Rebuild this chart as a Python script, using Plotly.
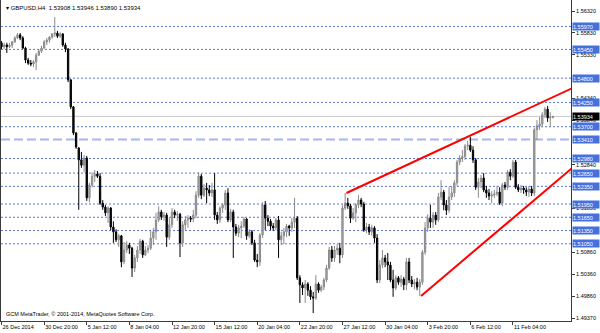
import plotly.graph_objects as go

# ---------------- data (GBPUSD, H4) ----------------
opens = [
    1.5560, 1.5551, 1.5555, 1.5551, 1.5555, 1.5562, 1.5571, 1.5578, 1.5571, 1.5548,
    1.5521, 1.5514, 1.5512, 1.5517, 1.5532, 1.5541, 1.5548, 1.5562, 1.5566, 1.5573,
    1.5580, 1.5582, 1.5575, 1.5580, 1.5555, 1.5546, 1.5476, 1.5415, 1.5356, 1.5322,
    1.5295, 1.5283, 1.5299, 1.5209, 1.5238, 1.5258, 1.5263, 1.5258, 1.5197, 1.5188,
    1.5175, 1.5186, 1.5143, 1.5132, 1.5114, 1.5123, 1.5064, 1.5091, 1.5102, 1.5095,
    1.5050, 1.5073, 1.5091, 1.5111, 1.5080, 1.5091, 1.5095, 1.5118, 1.5132, 1.5159,
    1.5177, 1.5166, 1.5170, 1.5120, 1.5148, 1.5177, 1.5170, 1.5172, 1.5107, 1.5148,
    1.5159, 1.5163, 1.5161, 1.5170, 1.5215, 1.5258, 1.5215, 1.5231, 1.5227, 1.5220,
    1.5227, 1.5170, 1.5159, 1.5186, 1.5193, 1.5220, 1.5159, 1.5177, 1.5143, 1.5129,
    1.5141, 1.5145, 1.5161, 1.5123, 1.5132, 1.5107, 1.5068, 1.5064, 1.5125, 1.5193,
    1.5163, 1.5156, 1.5145, 1.5141, 1.5159, 1.5114, 1.5123, 1.5132, 1.5145, 1.5141,
    1.5154, 1.5163, 1.5028, 1.5012, 1.5005, 1.5014, 1.5000, 1.4985, 1.4982, 1.5014,
    1.5000, 1.5007, 1.5023, 1.5050, 1.5091, 1.5073, 1.5091, 1.5095, 1.5080, 1.5186,
    1.5197, 1.5191, 1.5163, 1.5175, 1.5193, 1.5204, 1.5195, 1.5136, 1.5143, 1.5132,
    1.5141, 1.5118, 1.5023, 1.5057, 1.5073, 1.5064, 1.5057, 1.5023, 1.5005, 1.5028,
    1.5018, 1.5025, 1.5012, 1.5064, 1.5023, 1.5014, 1.5018, 1.5007, 1.5018, 1.5086,
    1.5141, 1.5163, 1.5154, 1.5170, 1.5159, 1.5211, 1.5222, 1.5193, 1.5181, 1.5211,
    1.5220, 1.5243, 1.5290, 1.5299, 1.5302, 1.5326, 1.5328, 1.5317, 1.5295, 1.5233,
    1.5245, 1.5254, 1.5227, 1.5220, 1.5213, 1.5215, 1.5218, 1.5222, 1.5197, 1.5238,
    1.5233, 1.5267, 1.5258, 1.5290, 1.5233, 1.5227, 1.5231, 1.5227, 1.5222, 1.5229,
    1.5220, 1.5363, 1.5372, 1.5376, 1.5397, 1.5410, 1.5390, 1.53908,
]
highs = [
    1.5564, 1.5560, 1.5560, 1.5560, 1.5564, 1.5575, 1.5582, 1.5582, 1.5575, 1.5551,
    1.5526, 1.5521, 1.5521, 1.5537, 1.5546, 1.5553, 1.5566, 1.5571, 1.5575, 1.5582,
    1.5618, 1.5587, 1.5584, 1.5582, 1.5560, 1.5548, 1.5478, 1.5417, 1.5358, 1.5324,
    1.5313, 1.5306, 1.5304, 1.5243, 1.5267, 1.5272, 1.5270, 1.5265, 1.5204, 1.5193,
    1.5190, 1.5188, 1.5156, 1.5138, 1.5127, 1.5125, 1.5109, 1.5111, 1.5107, 1.5098,
    1.5080, 1.5100, 1.5116, 1.5114, 1.5100, 1.5102, 1.5136, 1.5141, 1.5175, 1.5190,
    1.5182, 1.5177, 1.5175, 1.5163, 1.5186, 1.5182, 1.5179, 1.5175, 1.5156, 1.5168,
    1.5170, 1.5168, 1.5182, 1.5224, 1.5267, 1.5263, 1.5240, 1.5243, 1.5238, 1.5243,
    1.5265, 1.5177, 1.5190, 1.5197, 1.5227, 1.5231, 1.5184, 1.5182, 1.5150, 1.5148,
    1.5156, 1.5166, 1.5163, 1.5138, 1.5136, 1.5114, 1.5082, 1.5129, 1.5199, 1.5202,
    1.5170, 1.5161, 1.5152, 1.5163, 1.5168, 1.5132, 1.5141, 1.5150, 1.5148, 1.5163,
    1.5209, 1.5168, 1.5034, 1.5018, 1.5023, 1.5018, 1.5009, 1.4996, 1.5034, 1.5018,
    1.5012, 1.5028, 1.5057, 1.5098, 1.5100, 1.5100, 1.5104, 1.5107, 1.5193, 1.5220,
    1.5209, 1.5195, 1.5186, 1.5197, 1.5215, 1.5209, 1.5200, 1.5152, 1.5150, 1.5148,
    1.5145, 1.5127, 1.5068, 1.5091, 1.5080, 1.5084, 1.5064, 1.5046, 1.5034, 1.5032,
    1.5034, 1.5030, 1.5073, 1.5073, 1.5032, 1.5025, 1.5028, 1.5025, 1.5091, 1.5154,
    1.5172, 1.5193, 1.5177, 1.5177, 1.5220, 1.5249, 1.5227, 1.5204, 1.5233, 1.5236,
    1.5249, 1.5295, 1.5306, 1.5317, 1.5331, 1.5338, 1.5347, 1.5326, 1.5299, 1.5254,
    1.5261, 1.5265, 1.5236, 1.5229, 1.5224, 1.5227, 1.5236, 1.5233, 1.5243, 1.5245,
    1.5272, 1.5274, 1.5295, 1.5295, 1.5240, 1.5238, 1.5236, 1.5233, 1.5236, 1.5236,
    1.5367, 1.5385, 1.5392, 1.5403, 1.5415, 1.5417, 1.5403, 1.53946,
]
lows = [
    1.5546, 1.5546, 1.5537, 1.5548, 1.5548, 1.5560, 1.5569, 1.5566, 1.5546, 1.5514,
    1.5510, 1.5507, 1.5505, 1.5498, 1.5530, 1.5537, 1.5546, 1.5555, 1.5560, 1.5569,
    1.5573, 1.5571, 1.5571, 1.5551, 1.5539, 1.5471, 1.5410, 1.5351, 1.5320, 1.5182,
    1.5277, 1.5267, 1.5202, 1.5199, 1.5233, 1.5245, 1.5254, 1.5193, 1.5182, 1.5168,
    1.5152, 1.5136, 1.5107, 1.5109, 1.5098, 1.5052, 1.5059, 1.5084, 1.5082, 1.5030,
    1.5041, 1.5064, 1.5082, 1.5073, 1.5077, 1.5084, 1.5091, 1.5102, 1.5114, 1.5154,
    1.5159, 1.5157, 1.5098, 1.5114, 1.5141, 1.5163, 1.5157, 1.5075, 1.5098, 1.5136,
    1.5141, 1.5154, 1.5154, 1.5163, 1.5209, 1.5206, 1.5211, 1.5197, 1.5213, 1.5211,
    1.5159, 1.5150, 1.5152, 1.5175, 1.5182, 1.5154, 1.5154, 1.5073, 1.5123, 1.5120,
    1.5118, 1.5141, 1.5114, 1.5118, 1.5102, 1.5064, 1.5052, 1.5055, 1.5118, 1.5136,
    1.5145, 1.5136, 1.5134, 1.5136, 1.5073, 1.5102, 1.5104, 1.5120, 1.5123, 1.5132,
    1.5141, 1.5023, 1.4971, 1.4989, 1.4971, 1.4987, 1.4978, 1.4948, 1.4978, 1.4994,
    1.4996, 1.5000, 1.5018, 1.5046, 1.5064, 1.5064, 1.5080, 1.5061, 1.5073, 1.5181,
    1.5184, 1.5152, 1.5159, 1.5154, 1.5186, 1.5188, 1.5132, 1.5129, 1.5125, 1.5123,
    1.5107, 1.5016, 1.5016, 1.5050, 1.5052, 1.5023, 1.5018, 1.4985, 1.5000, 1.5012,
    1.5007, 1.5000, 1.5000, 1.5016, 1.5007, 1.5002, 1.5000, 1.4987, 1.5012, 1.5080,
    1.5132, 1.5141, 1.5141, 1.5148, 1.5154, 1.5204, 1.5181, 1.5170, 1.5175, 1.5204,
    1.5211, 1.5236, 1.5283, 1.5290, 1.5295, 1.5317, 1.5313, 1.5288, 1.5227, 1.5209,
    1.5231, 1.5222, 1.5209, 1.5204, 1.5197, 1.5209, 1.5213, 1.5193, 1.5190, 1.5227,
    1.5227, 1.5249, 1.5254, 1.5229, 1.5222, 1.5220, 1.5218, 1.5213, 1.5211, 1.5213,
    1.5213, 1.5340, 1.5363, 1.5369, 1.5390, 1.5381, 1.5369, 1.53890,
]
closes = [
    1.5551, 1.5555, 1.5551, 1.5555, 1.5562, 1.5571, 1.5578, 1.5571, 1.5548, 1.5521,
    1.5514, 1.5512, 1.5517, 1.5532, 1.5541, 1.5548, 1.5562, 1.5566, 1.5573, 1.5580,
    1.5582, 1.5575, 1.5580, 1.5555, 1.5546, 1.5476, 1.5415, 1.5356, 1.5324, 1.5295,
    1.5283, 1.5299, 1.5209, 1.5238, 1.5258, 1.5263, 1.5258, 1.5197, 1.5188, 1.5175,
    1.5186, 1.5143, 1.5132, 1.5114, 1.5123, 1.5064, 1.5091, 1.5102, 1.5095, 1.5050,
    1.5073, 1.5091, 1.5111, 1.5080, 1.5091, 1.5095, 1.5118, 1.5132, 1.5159, 1.5177,
    1.5166, 1.5170, 1.5120, 1.5148, 1.5177, 1.5170, 1.5172, 1.5107, 1.5148, 1.5159,
    1.5163, 1.5161, 1.5170, 1.5215, 1.5258, 1.5215, 1.5231, 1.5227, 1.5220, 1.5227,
    1.5170, 1.5159, 1.5186, 1.5193, 1.5220, 1.5159, 1.5177, 1.5143, 1.5129, 1.5141,
    1.5145, 1.5161, 1.5123, 1.5132, 1.5107, 1.5068, 1.5064, 1.5125, 1.5193, 1.5163,
    1.5156, 1.5145, 1.5141, 1.5159, 1.5114, 1.5123, 1.5132, 1.5145, 1.5141, 1.5154,
    1.5163, 1.5028, 1.5012, 1.5005, 1.5014, 1.5000, 1.4985, 1.4982, 1.5014, 1.5000,
    1.5007, 1.5023, 1.5050, 1.5091, 1.5073, 1.5091, 1.5095, 1.5080, 1.5186, 1.5197,
    1.5191, 1.5163, 1.5175, 1.5193, 1.5204, 1.5195, 1.5136, 1.5143, 1.5132, 1.5141,
    1.5118, 1.5023, 1.5057, 1.5073, 1.5064, 1.5057, 1.5023, 1.5005, 1.5028, 1.5018,
    1.5025, 1.5012, 1.5064, 1.5023, 1.5014, 1.5018, 1.5007, 1.5018, 1.5086, 1.5141,
    1.5163, 1.5154, 1.5170, 1.5159, 1.5211, 1.5222, 1.5193, 1.5181, 1.5211, 1.5220,
    1.5243, 1.5290, 1.5299, 1.5302, 1.5326, 1.5328, 1.5317, 1.5295, 1.5233, 1.5245,
    1.5254, 1.5227, 1.5220, 1.5213, 1.5215, 1.5218, 1.5222, 1.5197, 1.5238, 1.5233,
    1.5267, 1.5258, 1.5290, 1.5233, 1.5227, 1.5231, 1.5227, 1.5222, 1.5229, 1.5220,
    1.5363, 1.5372, 1.5376, 1.5397, 1.5410, 1.5390, 1.5391, 1.53934,
]
bars = list(range(len(closes)))

# time-axis labels (every 16th H4 bar)
tick_bars = [0, 16, 32, 48, 64, 80, 96, 112, 128, 144, 160, 176, 192]
tick_labels = ["26 Dec 2014", "30 Dec 20:00", "5 Jan 12:00", "8 Jan 04:00",
               "12 Jan 20:00", "15 Jan 12:00", "20 Jan 04:00", "22 Jan 20:00",
               "27 Jan 12:00", "30 Jan 04:00", "3 Feb 20:00", "6 Feb 12:00",
               "11 Feb 04:00"]

# price scale labels that remain visible beside the level boxes
price_ticks = [1.56320, 1.55830, 1.55330, 1.54340, 1.53840,
               1.52840, 1.51850, 1.50860, 1.50360, 1.49860, 1.49370]

# horizontal levels
dotted_levels = [1.55970, 1.55450, 1.54800, 1.54250, 1.53700, 1.52980,
                 1.52650, 1.52350, 1.51950, 1.51650, 1.51350, 1.51050]
dashed_level = 1.53410
last_price = 1.53934

# trend lines (bar index, price)
upper_x = [129.5, 214.5]
upper_y = [1.5220, 1.5458]
lower_x = [157.5, 214.5]
lower_y = [1.4987, 1.5278]

x_view = [-0.19, 213.78]
y_view = [1.49302, 1.56569]

title_text = "GBPUSD,H4  1.53908 1.53946 1.53890 1.53934"
copyright_text = "GCM MetaTrader, \u00a9 2001-2014, MetaQuotes Software Corp."

# ---------------- figure ----------------
FONT = "Liberation Sans, Arial, sans-serif"
AXIS_COL = "#3c3c3c"
LEVEL_BLUE = "#5877df"
BOX_BLUE = "#4571de"

fig = go.Figure()

fig.add_trace(go.Candlestick(
    x=bars, open=opens, high=highs, low=lows, close=closes,
    increasing=dict(line=dict(color="#8a8a8a", width=1), fillcolor="#a8a8a8"),
    decreasing=dict(line=dict(color="#000000", width=1), fillcolor="#000000"),
    whiskerwidth=0, hoverinfo="skip", showlegend=False,
))

for xs, ys in ((upper_x, upper_y), (lower_x, lower_y)):
    fig.add_trace(go.Scatter(x=xs, y=ys, mode="lines",
                             line=dict(color="#ff0000", width=2),
                             hoverinfo="skip", showlegend=False))

shapes = []
for lv in dotted_levels:
    shapes.append(dict(type="line", xref="paper", x0=0, x1=1, yref="y", y0=lv, y1=lv,
                       line=dict(color=LEVEL_BLUE, width=1, dash="2px,2px"), layer="below"))
shapes.append(dict(type="line", xref="paper", x0=0, x1=1, yref="y", y0=dashed_level, y1=dashed_level,
                   line=dict(color="#a3b8f0", width=2, dash="9px,4px"), layer="below"))
shapes.append(dict(type="line", xref="paper", x0=0, x1=1, yref="y", y0=last_price, y1=last_price,
                   line=dict(color="#c8c8c8", width=1), layer="below"))

annotations = []
for lv in dotted_levels + [dashed_level]:
    annotations.append(dict(xref="paper", x=1, xanchor="left", xshift=1,
                            yref="y", y=lv, yanchor="middle",
                            text=f"{lv:.5f}", showarrow=False, align="left",
                            font=dict(family=FONT, size=5.5, color="white"),
                            bgcolor=BOX_BLUE, width=26, height=7, borderpad=0))
annotations.append(dict(xref="paper", x=1, xanchor="left", xshift=1,
                        yref="y", y=last_price, yanchor="middle",
                        text=f"{last_price:.5f}", showarrow=False, align="left",
                        font=dict(family=FONT, size=5.5, color="white"),
                        bgcolor="#000000", width=26, height=7, borderpad=0))
annotations.append(dict(xref="paper", x=0, xanchor="left", xshift=3,
                        yref="paper", y=1, yanchor="top", yshift=-3,
                        text="\u25be " + title_text, showarrow=False,
                        font=dict(family=FONT, size=6, color="#000000")))
annotations.append(dict(xref="paper", x=0, xanchor="left", xshift=3,
                        yref="paper", y=0, yanchor="bottom", yshift=2,
                        text=copyright_text, showarrow=False,
                        font=dict(family=FONT, size=5.5, color="#000000")))

fig.update_layout(
    width=600, height=333,
    margin=dict(l=1, r=29, t=0, b=12, pad=0),
    paper_bgcolor="white", plot_bgcolor="white",
    shapes=shapes, annotations=annotations,
    showlegend=False,
    xaxis=dict(range=x_view, showgrid=False, zeroline=False,
               showline=True, linecolor=AXIS_COL, linewidth=1,
               ticks="outside", ticklen=3, tickcolor=AXIS_COL,
               tickvals=tick_bars, ticktext=tick_labels,
               ticklabelposition="outside right",
               tickfont=dict(family=FONT, size=5.5, color="#000000"),
               rangeslider=dict(visible=False), fixedrange=True),
    yaxis=dict(range=y_view, side="right", showgrid=False, zeroline=False,
               showline=True, mirror=True, linecolor=AXIS_COL, linewidth=1,
               ticks="outside", ticklen=3, tickcolor=AXIS_COL,
               tickvals=price_ticks, ticktext=[f"{v:.5f}" for v in price_ticks],
               tickfont=dict(family=FONT, size=5.5, color="#000000"),
               fixedrange=True),
)

fig.write_html("out.html")
